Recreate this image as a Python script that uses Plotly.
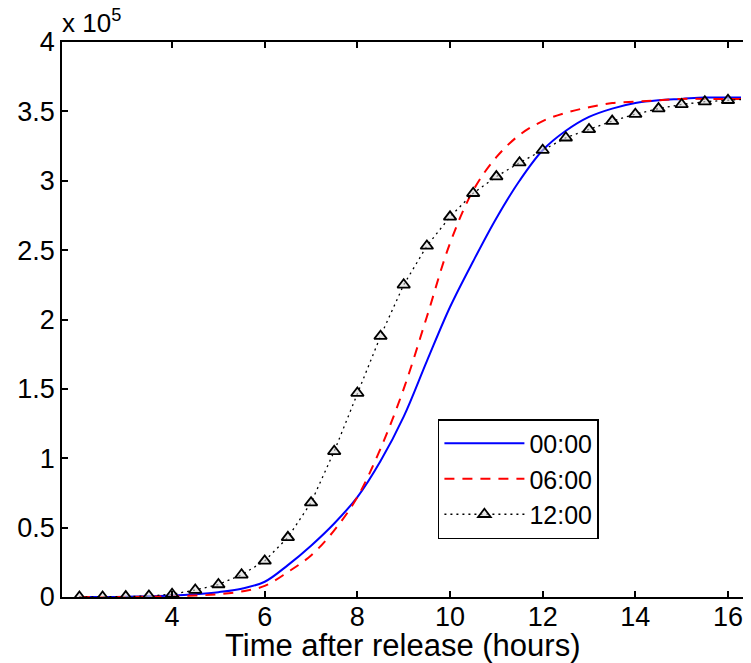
import plotly.graph_objects as go

# Time after release (hours)
hours = [2, 2.5, 3, 3.5, 4, 4.5, 5, 5.5, 6, 6.5, 7, 7.5, 8, 8.5, 9, 9.5,
         10, 10.5, 11, 11.5, 12, 12.5, 13, 13.5, 14, 14.5, 15, 15.5, 16, 16.5]

# values in units of 1e5
release_0000 = [0.0, 0.0, 0.002, 0.005, 0.01, 0.02, 0.035, 0.06, 0.11, 0.23, 0.37, 0.53,
                0.72, 0.98, 1.30, 1.70, 2.09, 2.42, 2.73, 3.00, 3.22, 3.36, 3.46, 3.52,
                3.56, 3.58, 3.59, 3.60, 3.60, 3.60]
release_0600 = [0.0, 0.0, 0.0, 0.002, 0.005, 0.01, 0.02, 0.04, 0.08, 0.18, 0.30, 0.48,
                0.72, 1.07, 1.50, 2.02, 2.55, 2.93, 3.17, 3.33, 3.43, 3.49, 3.53, 3.56,
                3.57, 3.58, 3.59, 3.59, 3.59, 3.59]
release_1200 = [0.0, 0.0, 0.003, 0.008, 0.02, 0.05, 0.09, 0.16, 0.26, 0.43, 0.68, 1.05,
                1.47, 1.88, 2.25, 2.53, 2.74, 2.91, 3.03, 3.13, 3.22, 3.31, 3.37, 3.43,
                3.48, 3.52, 3.55, 3.57, 3.58, 3.59]

x_ticks = [4, 6, 8, 10, 12, 14, 16]
y_ticks = [0, 0.5, 1, 1.5, 2, 2.5, 3, 3.5, 4]
y_tick_labels = ["0", "0.5", "1", "1.5", "2", "2.5", "3", "3.5", "4"]

FONT = "Liberation Sans, Arial, Helvetica, sans-serif"

fig = go.Figure()
fig.add_trace(go.Scatter(x=hours, y=release_0000, name="00:00", mode="lines",
                         line=dict(color="rgb(0,0,255)", width=2, shape="spline")))
fig.add_trace(go.Scatter(x=hours, y=release_0600, name="06:00", mode="lines",
                         line=dict(color="rgb(255,0,0)", width=2, dash="10px,8px", shape="spline")))
fig.add_trace(go.Scatter(x=hours, y=release_1200, name="12:00", mode="lines+markers",
                         line=dict(color="black", width=1.3, dash="2px,4px"),
                         marker=dict(symbol="triangle-up", size=11, color="rgba(215,215,215,0.6)",
                                     line=dict(color="black", width=1.8))))

# the page body has an 8px margin, so the figure is offset by 8px
fig.update_layout(
    template="none",
    width=735, height=655,
    margin=dict(l=54, r=0, t=34, b=66),
    paper_bgcolor="white", plot_bgcolor="white",
    font=dict(family=FONT, size=27, color="black"),
    showlegend=True,
    legend=dict(x=0.552, y=0.3207, xanchor="left", yanchor="top",
                bgcolor="white", bordercolor="black", borderwidth=1.5,
                font=dict(family=FONT, size=25, color="black"),
                itemwidth=80),
    xaxis=dict(range=[1.624, 16.324], tickvals=x_ticks, ticks="inside", ticklen=6,
               tickwidth=1.5, tickcolor="black", showline=True, linecolor="black",
               linewidth=1.5, mirror="ticks", showgrid=False, zeroline=False,
               automargin=False, tickfont=dict(size=27), ticklabelstandoff=-5,
               ticklabeloverflow="allow"),
    yaxis=dict(range=[0, 4], tickvals=y_ticks, ticktext=y_tick_labels, ticks="inside",
               ticklen=6, tickwidth=1.5, tickcolor="black", showline=True, mirror=False,
               linecolor="black", linewidth=1.5, showgrid=False, zeroline=False,
               automargin=False, tickfont=dict(size=27)),
    shapes=[dict(type="line", xref="paper", yref="paper", x0=1, x1=1, y0=0.004, y1=0.996,
                 line=dict(color="white", width=4), layer="above")],
    annotations=[
        dict(text="x 10<sup>5</sup>", xref="paper", yref="paper", x=0, y=1,
             xanchor="left", yanchor="bottom", showarrow=False, yshift=2, xshift=-2,
             font=dict(family=FONT, size=26, color="black")),
        dict(text="Time after release (hours)", xref="paper", yref="paper",
             x=0.4993, y=-0.0865, xanchor="center", yanchor="middle", showarrow=False,
             font=dict(family=FONT, size=31, color="black")),
    ],
)

fig.write_html("out.html")
